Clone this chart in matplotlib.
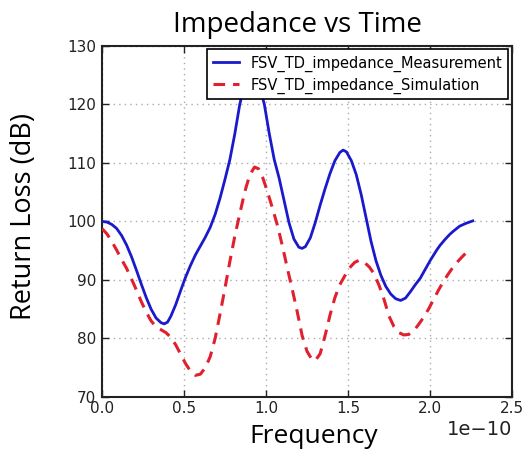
import matplotlib
matplotlib.use("Agg")
import matplotlib.pyplot as plt

# x in units of 1e-10 s (scaled below)
meas_x = [0.00, 0.03, 0.06, 0.09, 0.12, 0.15, 0.18, 0.21, 0.24, 0.27, 0.30, 0.33, 0.36, 0.38,
          0.40, 0.42, 0.45, 0.48, 0.51, 0.54, 0.57, 0.60, 0.63, 0.66, 0.69, 0.72, 0.75, 0.78,
          0.81, 0.84, 0.87, 0.90, 0.93, 0.96, 0.99, 1.02, 1.05, 1.08, 1.11, 1.14, 1.17, 1.20,
          1.22, 1.24, 1.27, 1.30, 1.33, 1.36, 1.39, 1.42, 1.45, 1.47, 1.49, 1.52, 1.55, 1.58,
          1.61, 1.64, 1.67, 1.70, 1.73, 1.76, 1.79, 1.82, 1.85, 1.88, 1.91, 1.94, 1.97, 2.00,
          2.04, 2.06, 2.09, 2.12, 2.14, 2.18, 2.22, 2.26]
meas_y = [100.0, 99.9, 99.5, 98.8, 97.6, 96.0, 94.0, 91.7, 89.3, 87.0, 85.0, 83.5, 82.7, 82.5,
          82.8, 83.8, 85.8, 88.2, 90.5, 92.5, 94.3, 95.8, 97.3, 99.0, 101.2, 104.0, 107.2, 110.6,
          115.0, 120.0, 123.5, 125.1, 125.0, 123.2, 120.0, 115.0, 110.6, 107.4, 103.6, 99.8, 97.0, 95.6,
          95.4, 95.7, 97.2, 99.8, 102.8, 105.6, 108.2, 110.4, 111.8, 112.2, 111.9, 110.4, 108.0, 104.6,
          100.6, 96.6, 93.3, 90.8, 88.9, 87.6, 86.8, 86.5, 86.9, 88.0, 89.2, 90.3, 91.8, 93.3,
          95.1, 95.9, 96.9, 97.8, 98.3, 99.2, 99.7, 100.1]

sim_x = [0.00, 0.03, 0.06, 0.09, 0.12, 0.15, 0.18, 0.21, 0.24, 0.27, 0.30, 0.33, 0.36, 0.39,
         0.42, 0.45, 0.48, 0.51, 0.54, 0.57, 0.60, 0.63, 0.66, 0.69, 0.72, 0.75, 0.78, 0.81,
         0.84, 0.87, 0.90, 0.93, 0.955, 0.98, 1.01, 1.04, 1.07, 1.10, 1.13, 1.16, 1.19, 1.22,
         1.25, 1.28, 1.30, 1.33, 1.36, 1.39, 1.42, 1.45, 1.48, 1.51, 1.54, 1.57, 1.60, 1.63,
         1.66, 1.69, 1.72, 1.75, 1.78, 1.81, 1.84, 1.87, 1.90, 1.93, 1.96, 1.99, 2.02, 2.05,
         2.08, 2.11, 2.14, 2.17, 2.20, 2.24]
sim_y = [98.8, 97.9, 96.6, 95.1, 93.5, 92.0, 90.2, 88.3, 86.3, 84.5, 83.0, 82.0, 81.5, 81.0,
         80.2, 78.9, 77.3, 75.7, 74.4, 73.7, 73.9, 75.0, 76.9, 80.0, 84.2, 88.6, 93.2, 97.5,
         101.3, 105.0, 107.9, 109.3, 109.0, 107.5, 105.0, 102.2, 99.3, 95.8, 92.0, 88.4, 84.6, 80.5,
         77.8, 76.4, 76.2, 77.4, 80.5, 84.0, 87.0, 89.2, 90.7, 92.1, 93.0, 93.4, 93.0, 92.2,
         91.0, 89.0, 86.6, 83.8, 82.0, 81.0, 80.6, 80.7, 81.3, 82.4, 83.6, 85.0, 86.6, 88.2,
         89.7, 91.0, 92.2, 93.2, 94.1, 95.2]

xticks = [0.0, 0.5, 1.0, 1.5, 2.0, 2.5]
yticks = [70, 80, 90, 100, 110, 120, 130]

scale = 1e-10

fig = plt.figure(figsize=(5.28, 4.55), dpi=100)
ax = fig.add_axes([0.193, 0.1275, 0.777, 0.7715])

ax.plot([v * scale for v in meas_x], meas_y, color="#1a1acc", lw=2.0,
        label="FSV_TD_impedance_Measurement", zorder=3)
ax.plot([v * scale for v in sim_x], sim_y, color="#e0202e", lw=2.2, ls=(0, (3.8, 2.6)),
        label="FSV_TD_impedance_Simulation", zorder=3)

ax.set_xlim(0, 2.5e-10)
ax.set_ylim(70, 130)
ax.set_xticks([t * scale for t in xticks])
ax.set_yticks(yticks)

ax.grid(True, color="#aaaaaa", ls=(0, (1, 3)), lw=1.0)
ax.tick_params(direction="in", top=True, right=True, length=5, width=1,
               labelsize=11, colors="#222222", pad=4)
ax.tick_params(axis="x", pad=3)
for s in ax.spines.values():
    s.set_linewidth(1.5)
    s.set_color("#222222")

ax.xaxis.get_offset_text().set_fontsize(14)

ax.set_title("Impedance vs Time", fontsize=20, family="Open Sans", pad=10, x=0.477)
ax.set_xlabel("Frequency", fontsize=19, family="Open Sans")
ax.xaxis.set_label_coords(0.516, -0.078)
ax.xaxis.label.set_va("top")
ax.set_ylabel("Return Loss (dB)", fontsize=19.5, family="Open Sans")
ax.yaxis.set_label_coords(-0.155, 0.515)

leg = ax.legend(loc="upper right", bbox_to_anchor=(0.99, 0.99), fontsize=10.5,
                fancybox=False, framealpha=1, edgecolor="black", borderaxespad=0,
                handlelength=1.8, borderpad=0.4, labelspacing=0.4)
leg.get_frame().set_linewidth(1.2)
leg.set_zorder(5)

fig.savefig("out.png", dpi=100)
